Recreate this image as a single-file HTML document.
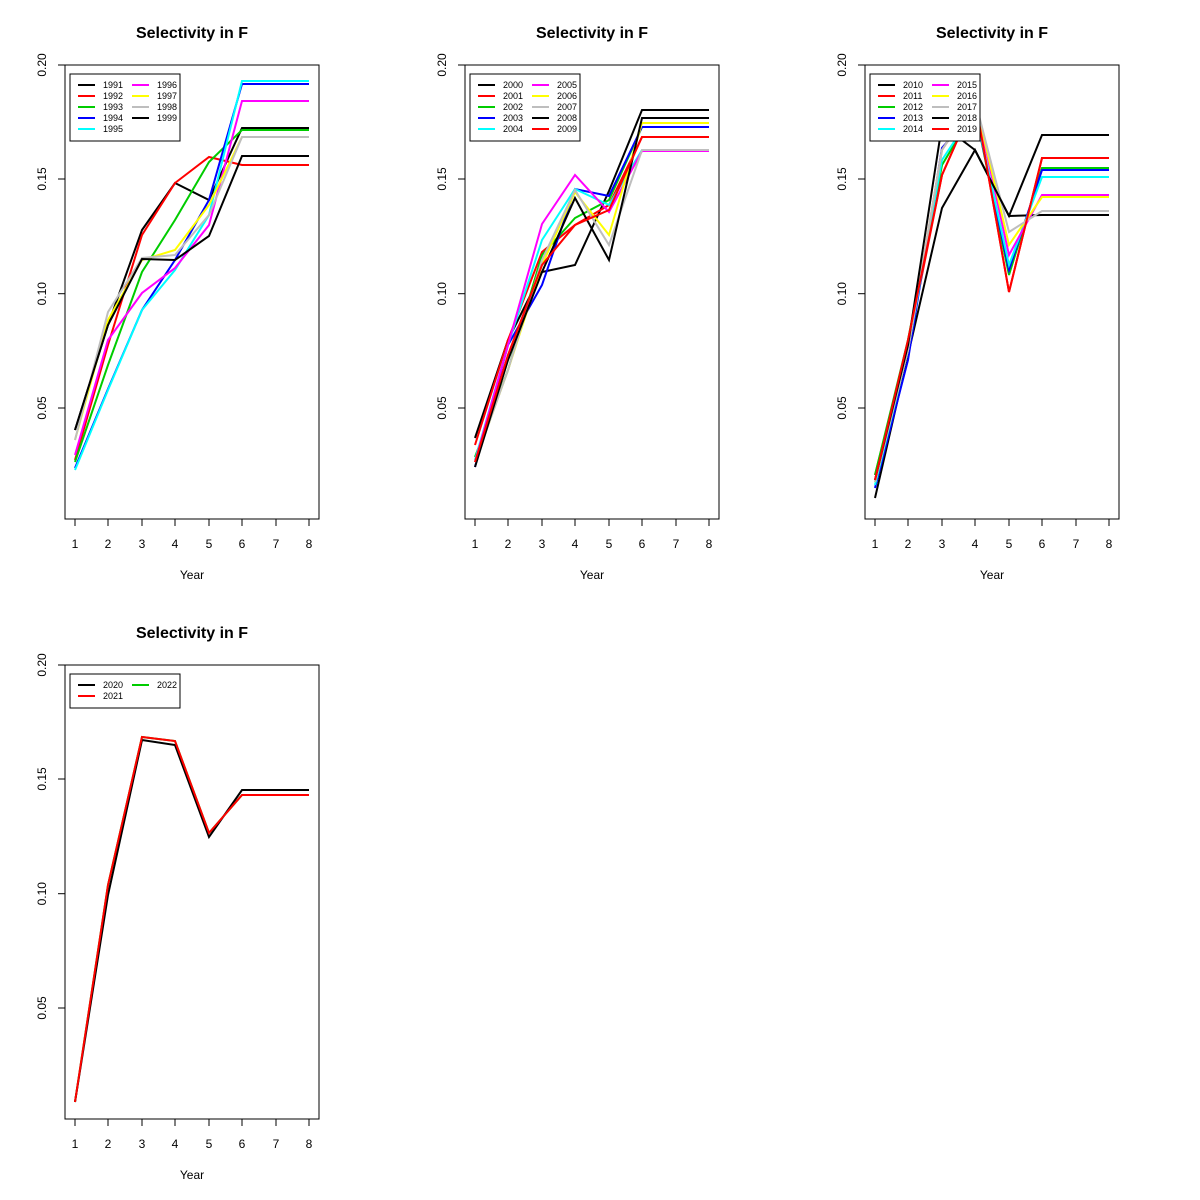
<!DOCTYPE html>
<html><head><meta charset="utf-8"><style>body{margin:0;background:#fff}svg{display:block}</style></head>
<body>
<svg id="s" width="1200" height="1200" xmlns="http://www.w3.org/2000/svg" font-family="Liberation Sans, sans-serif"></svg>
<script>
const X=[75,108,142,175,209,242,276,309];
const panels=[
 {ox:0,oy:0,series:[
  ["1991","#000",[430,325,230,183,200,128,128,128]],
  ["1992","#f00",[460,345,235,183,157,165,165,165]],
  ["1993","#0c0",[462,365,272,220,162,130,130,130]],
  ["1994","#00f",[468,389,310,260,200,84,84,84]],
  ["1995","#0ff",[470,390,310,270,215,81,81,81]],
  ["1996","#f0f",[455,340,293,268,225,101,101,101]],
  ["1997","#ff0",[440,320,260,250,205,137,137,137]],
  ["1998","#bebebe",[440,312,258,255,215,137,137,137]],
  ["1999","#000",[430,325,259,260,236,156,156,156]]]},
 {ox:400,oy:0,series:[
  ["2000","#000",[438,340,272,265,191,110,110,110]],
  ["2001","#f00",[445,340,252,225,205,137,137,137]],
  ["2002","#0c0",[457,370,255,218,200,127,127,127]],
  ["2003","#00f",[467,345,285,189,196,127,127,127]],
  ["2004","#0ff",[460,345,240,189,205,150,150,150]],
  ["2005","#f0f",[462,345,224,175,212,151,151,151]],
  ["2006","#ff0",[462,370,265,192,235,123,123,123]],
  ["2007","#bebebe",[462,370,260,190,245,150,150,150]],
  ["2008","#000",[467,360,272,198,260,118,118,118]],
  ["2009","#f00",[462,355,265,225,210,137,137,137]]]},
 {ox:800,oy:0,series:[
  ["2010","#000",[498,355,208,150,216,215,215,215]],
  ["2011","#f00",[475,345,175,100,292,158,158,158]],
  ["2012","#0c0",[475,340,165,110,275,168,168,168]],
  ["2013","#00f",[488,360,148,110,270,170,170,170]],
  ["2014","#0ff",[485,350,160,110,265,177,177,177]],
  ["2015","#f0f",[480,350,150,100,255,195,195,195]],
  ["2016","#ff0",[482,350,150,100,245,197,197,197]],
  ["2017","#bebebe",[482,350,150,100,232,211,211,211]],
  ["2018","#000",[480,345,125,150,216,135,135,135]],
  ["2019","#f00",[480,340,175,100,292,158,158,158]]]},
 {ox:0,oy:600,order:[2,0,1],series:[
  ["2020","#000",[502,295,140,145,237,190,190,190]],
  ["2021","#f00",[502,285,137,141,233,195,195,195]],
  ["2022","#0c0",[502,285,137,141,233,195,195,195]]]}
];
let h='';
for(const p of panels){
 h+=`<g transform="translate(${p.ox},${p.oy})">`;
 h+=`<text x="192" y="38" text-anchor="middle" font-weight="bold" font-size="16">Selectivity in F</text>`;
 h+=`<rect x="65" y="65" width="254" height="454" fill="none" stroke="#000"/>`;
 X.forEach((x,i)=>{h+=`<line x1="${x}" y1="519" x2="${x}" y2="526" stroke="#000"/><text x="${x}" y="548" text-anchor="middle" font-size="12">${i+1}</text>`;});
 h+=`<line x1="75" y1="519" x2="309" y2="519" stroke="#000"/>`;
 [[0.05,408],[0.10,293.7],[0.15,179],[0.20,65]].forEach(([v,y])=>{h+=`<line x1="58" y1="${y}" x2="65" y2="${y}" stroke="#000"/><text transform="translate(46,${y}) rotate(-90)" text-anchor="middle" font-size="12">${v.toFixed(2)}</text>`;});
 h+=`<line x1="65" y1="65" x2="65" y2="408" stroke="#000"/>`;
 h+=`<text x="192" y="579" text-anchor="middle" font-size="12">Year</text>`;
 const ord=p.order||p.series.map((_,i)=>i);
 for(const k of ord){const s=p.series[k];h+=`<polyline fill="none" stroke="${s[1]}" stroke-width="2" points="${s[2].map((y,i)=>X[i]+','+y).join(' ')}"/>`;}
 const n=p.series.length;
 const r= n>4?5:2;
 h+=`<rect x="70" y="74" width="110" height="${r*11+12}" fill="#fff" stroke="#000"/>`;
 p.series.forEach((s,i)=>{const c=Math.floor(i/r),rr=i%r;const lx=78+c*54,ly=85+rr*11;
  h+=`<line x1="${lx}" y1="${ly}" x2="${lx+17}" y2="${ly}" stroke="${s[1]}" stroke-width="2"/><text x="${lx+25}" y="${ly+3}" font-size="9">${s[0]}</text>`;});
 h+='</g>';
}
document.getElementById('s').innerHTML=h;
</script>
</body></html>
